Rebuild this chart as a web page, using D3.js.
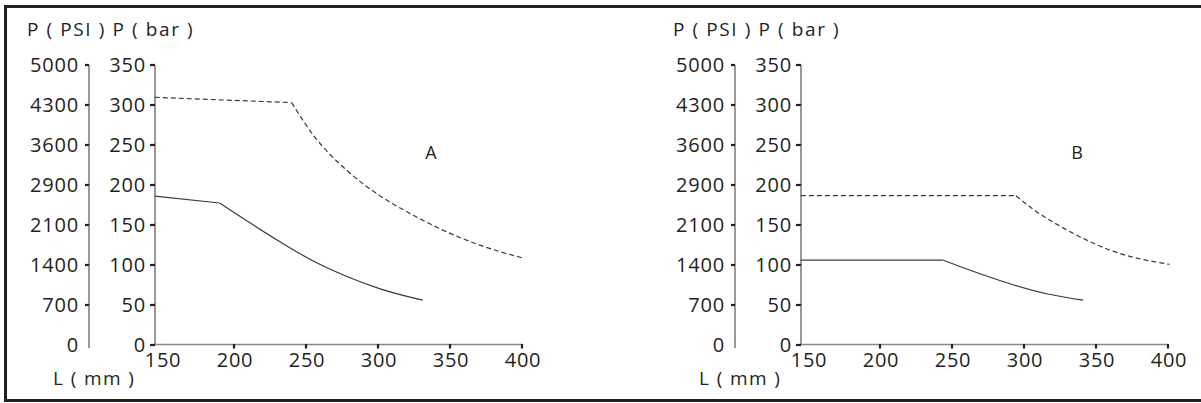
<!DOCTYPE html>
<html>
<head>
<meta charset="UTF-8">
<title>Pressure vs length</title>
<script src="https://cdn.jsdelivr.net/npm/d3@7"></script>
<style>
    body { margin: 0; background: #fff; }
    text { font-family: "Open Sans", sans-serif; fill: #231f20; }
</style>
</head>
<body>
<div id="chart"></div>
<script>
    // tick labels
    const barTicks = [0, 50, 100, 150, 200, 250, 300, 350];
    const psiTicks = ["0", "700", "1400", "2100", "2900", "3600", "4300", "5000"];
    const lenTicks = [150, 200, 250, 300, 350, 400];

    // chart A (L in mm, P in bar)
    const lenA_solid = [145, 190, 213, 232, 255, 278, 301, 331];
    const barA_solid = [186, 177.5, 150.5, 129, 105, 86, 70.5, 56];
    const lenA_dash = [145, 240, 255, 278, 301, 324.5, 347.7, 370.8, 400];
    const barA_dash = [309.6, 303, 262.5, 218.8, 187, 162.3, 141.4, 124.8, 109];

    // chart B
    const lenB_solid = [145, 244, 270, 293, 316.5, 341];
    const barB_solid = [106, 106, 88.75, 75, 63.75, 56];
    const lenB_dash = [145, 294.4, 307, 327.8, 362.7, 401];
    const barB_dash = [186.6, 186.6, 168.75, 145.8, 116.7, 100.8];

    const width = 1201, height = 403;
    const ink = "#231f20";

    const svg = d3.select("#chart").append("svg")
        .attr("width", width)
        .attr("height", height);

    // frame (only top, left, bottom show in the picture)
    svg.append("path")
        .attr("d", "M1201,6.5 H5.5 V400.5 H1201")
        .attr("fill", "none")
        .attr("stroke", ink)
        .attr("stroke-width", 3);

    const y = d3.scaleLinear().domain([0, 350]).range([345, 65]);

    function drawPanel(off, label, series) {
        const g = svg.append("g").attr("transform", "translate(" + off + ",0)");
        const x = d3.scaleLinear().domain([150, 400]).range([162, 522]);
        const psiX = 89, barX = 155;

        g.append("text").attr("x", 27).attr("y", 36)
            .attr("font-size", 19).attr("letter-spacing", 1.6)
            .text("P ( PSI )  P ( bar )");

        // PSI axis (labels sit on the bar ticks)
        g.append("line").attr("x1", psiX).attr("x2", psiX).attr("y1", 65).attr("y2", 348)
            .attr("stroke", "#555").attr("stroke-width", 1.2);
        barTicks.forEach((b, i) => {
            if (i > 0) {
                g.append("line").attr("x1", psiX - 4).attr("x2", psiX).attr("y1", y(b)).attr("y2", y(b))
                    .attr("stroke", ink).attr("stroke-width", 2.2);
            }
            g.append("text").attr("x", psiX - 10).attr("y", y(b) + 2)
                .attr("text-anchor", "end").attr("dominant-baseline", "middle")
                .attr("font-size", 20).attr("letter-spacing", 0.8)
                .text(psiTicks[i]);
        });

        // bar axis
        g.append("line").attr("x1", barX).attr("x2", barX).attr("y1", 65).attr("y2", 345)
            .attr("stroke", "#555").attr("stroke-width", 1.2);
        barTicks.forEach(b => {
            g.append("line").attr("x1", barX - 5).attr("x2", barX).attr("y1", y(b)).attr("y2", y(b))
                .attr("stroke", ink).attr("stroke-width", 2.2);
            g.append("text").attr("x", barX - 9).attr("y", y(b) + 2)
                .attr("text-anchor", "end").attr("dominant-baseline", "middle")
                .attr("font-size", 20).attr("letter-spacing", 0.8)
                .text(b);
        });

        // length axis
        g.append("line").attr("x1", barX).attr("x2", x(400)).attr("y1", 344.5).attr("y2", 344.5)
            .attr("stroke", "#888").attr("stroke-width", 1.3);
        lenTicks.forEach(l => {
            if (l > 150) {
                g.append("line").attr("x1", x(l)).attr("x2", x(l)).attr("y1", 344).attr("y2", 348.5)
                    .attr("stroke", ink).attr("stroke-width", 2.2);
            }
            g.append("text").attr("x", x(l) + 1).attr("y", 367)
                .attr("text-anchor", "middle")
                .attr("font-size", 20).attr("letter-spacing", 0.8)
                .text(l);
        });
        g.append("text").attr("x", 53).attr("y", 385)
            .attr("font-size", 19).attr("letter-spacing", 1.4)
            .text("L ( mm )");

        g.append("text").attr("x", 431).attr("y", 159)
            .attr("text-anchor", "middle").attr("font-size", 18)
            .text(label);

        // curves: a straight first leg, then a smooth bend
        series.forEach(s => {
            const pts = s.len.map((l, i) => [x(l), y(s.bar[i])]);
            const style = sel => sel.attr("fill", "none").attr("stroke", "#3a3a3a")
                .attr("stroke-width", 1.2).attr("stroke-dasharray", s.dash ? "5,3" : null);
            g.append("path").attr("d", d3.line()(pts.slice(0, 2))).call(style);
            g.append("path").attr("d", d3.line().curve(d3.curveMonotoneX)(pts.slice(1))).call(style);
        });
    }

    drawPanel(0, "A", [
        {len: lenA_dash, bar: barA_dash, dash: true},
        {len: lenA_solid, bar: barA_solid, dash: false}
    ]);
    drawPanel(646, "B", [
        {len: lenB_dash, bar: barB_dash, dash: true},
        {len: lenB_solid, bar: barB_solid, dash: false}
    ]);
</script>
</body>
</html>
